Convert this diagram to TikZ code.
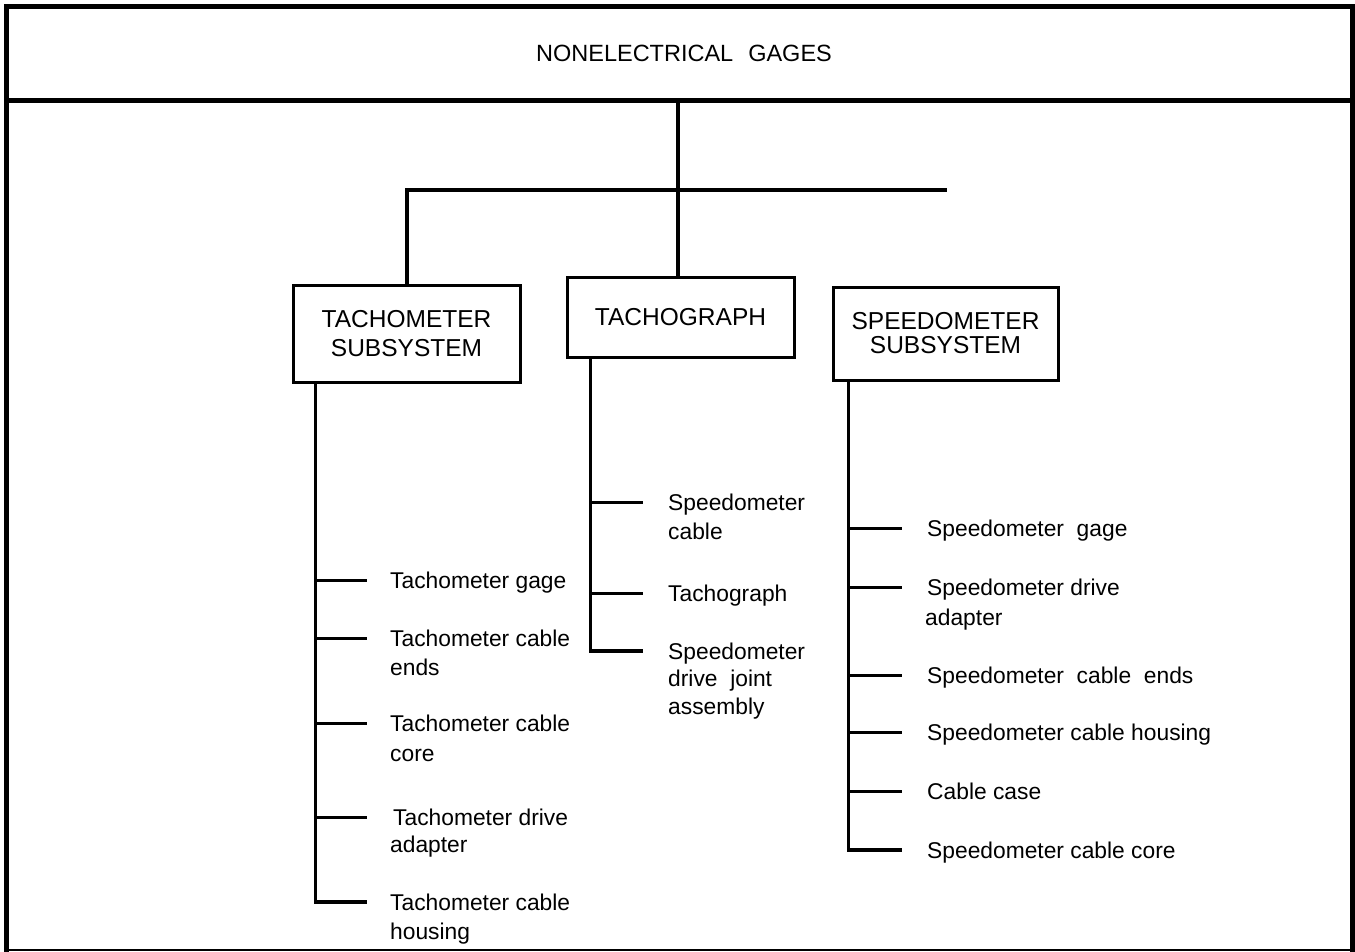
\documentclass[tikz,border=0pt]{standalone}
\usepackage{fontspec}
\setmainfont{Liberation Sans}
\begin{document}
\begin{tikzpicture}[x=1pt,y=-1pt,
  frame/.style={line width=4.5pt, line join=miter},
  conn/.style={line width=4pt},
  spine/.style={line width=3.5pt},
  twig/.style={line width=3pt},
  unit/.style={draw, line width=3pt, minimum width=227pt, align=center,
    inner sep=0pt, font=\fontsize{24.5}{29}\selectfont},
  part/.style={anchor=west, inner sep=0pt, text height=16.3pt, text depth=0pt,
    font=\fontsize{22.8}{27}\selectfont},
  partcont/.style={anchor=base west, inner sep=0pt,
    font=\fontsize{22.8}{27}\selectfont},
]
\useasboundingbox (0,0) rectangle (1355,952);

% outer frame and header band
\draw[frame] (6.5,955) -- (6.5,6.5) -- (1352.5,6.5) -- (1352.5,955);
\draw[line width=2pt] (6.5,950) -- (1352.5,950);
\draw[frame] (6.5,100.5) -- (1352.5,100.5);
\node[font=\fontsize{23.5}{28}\selectfont, anchor=base, inner sep=0pt] (title)
  at (684,62) {NONELECTRICAL\hspace{15pt}GAGES};
\coordinate (hdr) at (678,100.5);
\coordinate (barend) at (947,190);

% subsystem boxes
\node[unit, minimum height=97pt] (ts) at (406.5,333.5) {TACHOMETER\\SUBSYSTEM};
\node[unit, minimum height=80pt] (tg) at (680.5,317) {TACHOGRAPH};
\node[unit, minimum width=225pt, minimum height=93pt,
  font=\fontsize{24.5}{24}\selectfont] (ss) at (945.5,333.5) {SPEEDOMETER\\SUBSYSTEM};

% top-level connectors
\draw[conn] (hdr) -- (hdr |- tg.north);
\draw[conn] (ts.north) |- (barend);

% tachometer subsystem parts
\node[part] (a1) at (390,580) {Tachometer gage};
\node[part] (a2) at (390,638) {Tachometer cable};
\node[partcont] (a2b) at ([yshift=-29pt]a2.base west) {ends};
\node[part] (a3) at (390,723) {Tachometer cable};
\node[partcont] (a3b) at ([yshift=-30pt]a3.base west) {core};
\node[part] (a4) at (393,817) {Tachometer drive};
\node[partcont] (a4b) at ([xshift=-3pt,yshift=-27pt]a4.base west) {adapter};
\node[part] (a5) at (390,902) {Tachometer cable};
\node[partcont] (a5b) at ([yshift=-29pt]a5.base west) {housing};

\coordinate (tsp) at ([xshift=24pt]ts.south west);
\draw[spine] (tsp) |- ([xshift=-23pt]a5.west);
\foreach \n in {a1,a2,a3}
  \draw[twig] (tsp |- \n.west) -- ([xshift=-23pt]\n.west);
\draw[twig] (tsp |- a4.west) -- ([xshift=-26pt]a4.west);

% tachograph parts
\node[part] (b1) at (668,502) {Speedometer};
\node[partcont] (b1b) at ([yshift=-29pt]b1.base west) {cable};
\node[part] (b2) at (668,593) {Tachograph};
\node[part] (b3) at (668,651) {Speedometer};
\node[partcont] (b3b) at ([yshift=-27.5pt]b3.base west) {drive\ \ joint};
\node[partcont] (b3c) at ([yshift=-55pt]b3.base west) {assembly};

\coordinate (tgp) at ([xshift=25pt]tg.south west);
\draw[spine] (tgp) |- ([xshift=-25pt]b3.west);
\foreach \n in {b1,b2}
  \draw[twig] (tgp |- \n.west) -- ([xshift=-25pt]\n.west);

% speedometer subsystem parts
\node[part] (c1) at (927,528) {Speedometer\ \ gage};
\node[part] (c2) at (927,587) {Speedometer drive};
\node[partcont] (c2b) at ([xshift=-2pt,yshift=-30pt]c2.base west) {adapter};
\node[part] (c3) at (927,675) {Speedometer\ \ cable\ \ ends};
\node[part] (c4) at (927,732) {Speedometer cable housing};
\node[part] (c5) at (927,791) {Cable case};
\node[part] (c6) at (927,850) {Speedometer cable core};

\coordinate (ssp) at ([xshift=17pt]ss.south west);
\draw[spine] (ssp) |- ([xshift=-25pt]c6.west);
\foreach \n in {c1,c2,c3,c4,c5}
  \draw[twig] (ssp |- \n.west) -- ([xshift=-25pt]\n.west);
\end{tikzpicture}
\end{document}
